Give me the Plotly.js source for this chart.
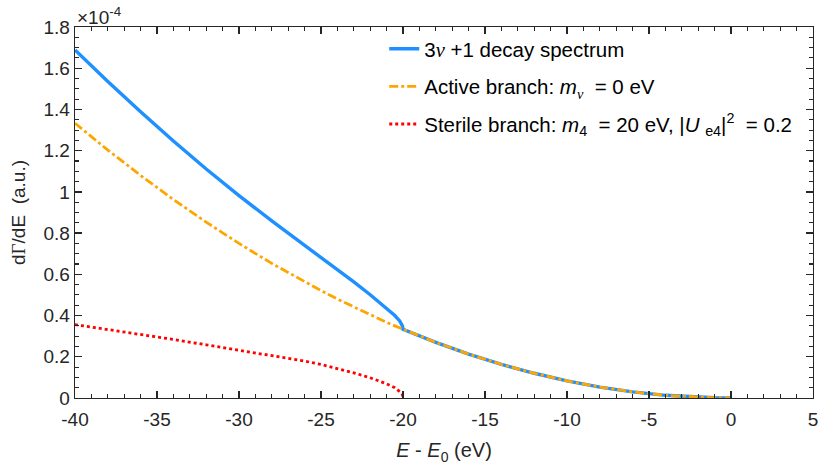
<!DOCTYPE html>
<html>
<head>
<meta charset="utf-8">
<script src="https://cdn.plot.ly/plotly-3.0.1.min.js"></script>
<style>html,body{margin:0;padding:0;background:#fff;}#chart{width:818px;height:467px;}</style>
</head>
<body>
<div id="chart"></div>
<script>
// Energy E - E0 (eV)
const energy = [-40,-38,-36,-34,-32,-30,-28,-26,-25,-24,-23,-22,-21.5,-21,-20.5,-20.2,-20.1,-20.03,-20,-18,-16,-14,-12,-10,-8,-6,-4,-2,-1,0];
// Spectra in units of 1e-4 (a.u.)
const totalSpectrum = [1.689,1.536,1.389,1.247,1.111,0.982,0.859,0.742,0.684,0.624,0.563,0.501,0.469,0.436,0.400,0.374,0.362,0.349,0.333,0.270,0.213,0.163,0.120,0.083,0.053,0.030,0.013,0.003,0.001,0];
const activeBranch  = [1.333,1.203,1.080,0.963,0.853,0.750,0.653,0.563,0.521,0.480,0.441,0.403,0.385,0.367,0.350,0.340,0.337,0.334,0.333,0.270,0.213,0.163,0.120,0.083,0.053,0.030,0.013,0.003,0.001,0];
const sterileEnergy = [-40,-38,-36,-34,-32,-30,-28,-26,-25,-24,-23,-22,-21.5,-21,-20.5,-20.2,-20.1,-20.03,-20];
const sterileBranch = [0.356,0.333,0.309,0.284,0.258,0.232,0.206,0.179,0.163,0.144,0.122,0.098,0.084,0.069,0.050,0.034,0.025,0.015,0.0];
const xTicks = [-40,-35,-30,-25,-20,-15,-10,-5,0,5];
const yTicks = [0,0.2,0.4,0.6,0.8,1,1.2,1.4,1.6,1.8];

const FONT = 'Liberation Sans, Arial, Helvetica, sans-serif';
const SERIF = 'Liberation Serif, Times New Roman, serif';
const TXT = '#262626';
const nu = '<span style="font-family:' + SERIF + '"><i>ν</i></span>';
const NB = '\u00A0';
const traces = [
  {x: energy, y: totalSpectrum, mode:'lines', name:'3' + nu + ' +1 decay spectrum', legendgroup:'a',
   line:{color:'#1E90FF', width:3.4}},
  {x: energy, y: activeBranch, mode:'lines', name:'Active branch: <i>m</i><sub>' + nu + '</sub>' + NB + ' = 0 eV', legendgroup:'b',
   line:{color:'#FFA500', width:2.8, dash:'dashdot'}},
  {x: sterileEnergy, y: sterileBranch, mode:'lines', name:'Sterile branch: <i>m</i><sub>4</sub>' + NB + ' = 20 eV, |<i>U</i>' + NB + '<sub>e4</sub>|<sup>2</sup>' + NB + ' = 0.2', legendgroup:'c',
   line:{color:'#FF0000', width:2.8, dash:'dot'}}
];
const axisCommon = {
  showline:true, linecolor:TXT, linewidth:1.3, mirror:'allticks',
  ticks:'inside', ticklen:7, tickwidth:1.3, tickcolor:TXT,
  showgrid:false, zeroline:false, ticklabeloverflow:'allow',
  tickfont:{family:FONT, size:19, color:TXT}
};
const layout = {
  width:818, height:467,
  margin:{l:75, r:5, t:27, b:69},
  paper_bgcolor:'#fff', plot_bgcolor:'#fff',
  font:{family:FONT, size:19, color:TXT},
  showlegend:true,
  legend:{x:0.419, y:0.995, xanchor:'left', yanchor:'top', bgcolor:'rgba(0,0,0,0)',
          font:{family:FONT, size:20.5, color:'#000'}, tracegroupgap:8, itemwidth:30},
  xaxis: Object.assign({}, axisCommon, {
    range:[-40,5], tickmode:'array', tickvals:xTicks, ticktext:xTicks.map(String),
    ticklabelstandoff:4,
    minor:{ticks:'inside', dtick:1, tick0:0, ticklen:4, tickwidth:1.1, tickcolor:TXT},
    title:{text:'<i>E</i> - <i>E</i><sub>0</sub> (eV)', font:{family:FONT, size:20, color:TXT}, standoff:14}
  }),
  yaxis: Object.assign({}, axisCommon, {
    range:[0,1.8], tickmode:'array', tickvals:yTicks, ticktext:yTicks.map(String),
    minor:{ticks:'inside', dtick:0.05, tick0:0, ticklen:4, tickwidth:1.1, tickcolor:TXT},
    title:{text:'d<span style="font-family:' + SERIF + '">Γ</span>/dE  (a.u.)', font:{family:FONT, size:19, color:TXT}, standoff:12}
  }),
  annotations:[
    {xref:'paper', yref:'paper', x:0, y:1, xanchor:'left', yanchor:'bottom', xshift:0, yshift:-3,
     text:'×10<sup>-4</sup>', showarrow:false, font:{family:FONT, size:19, color:TXT}}
  ]
};
Plotly.newPlot('chart', traces, layout, {displayModeBar:false, staticPlot:true});
</script>
</body>
</html>
